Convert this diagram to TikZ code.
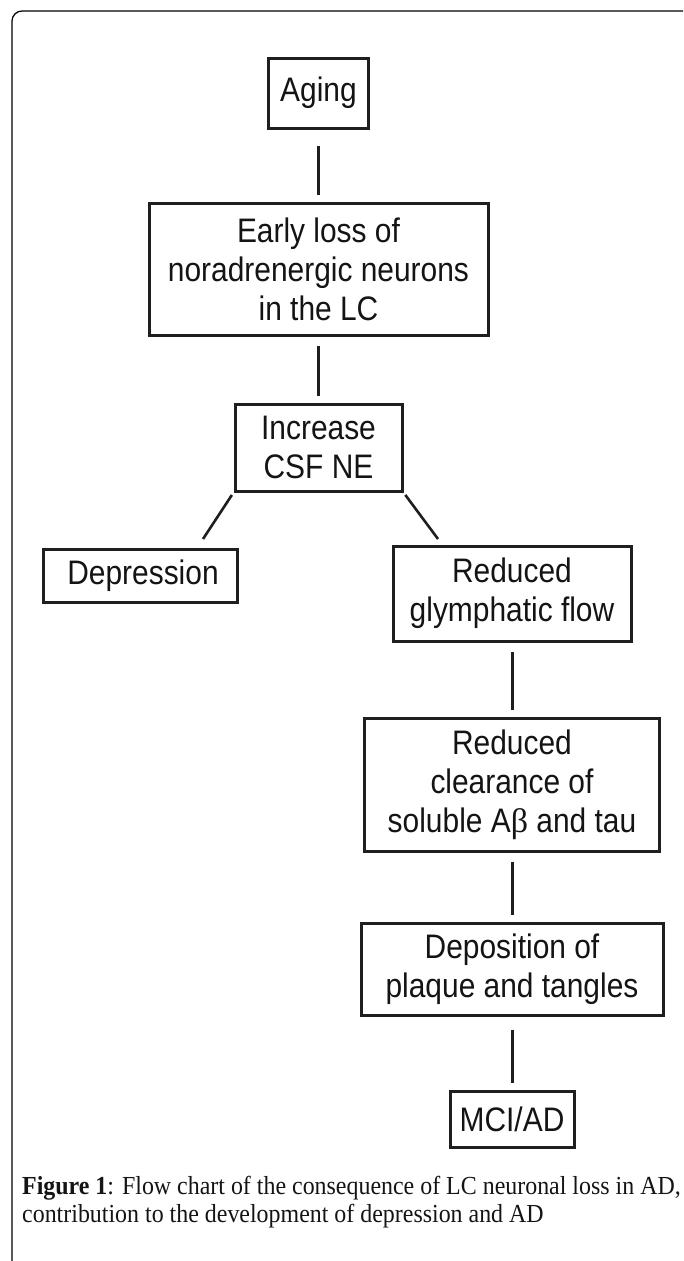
\documentclass[tikz,border=0pt]{standalone}
\usepackage{fontspec}
\newfontfamily\boxfont{Liberation Sans}[FakeStretch=0.88]
\newfontfamily\capfont{Liberation Serif}[FakeStretch=0.92]
\newfontfamily\betafont{Liberation Serif}

\begin{document}
\begin{tikzpicture}[x=1pt, y=-1pt,
    box/.style={draw=black!88, line width=3pt, inner sep=0pt, align=center, text=black!92,
                font=\boxfont\fontsize{34}{39}\selectfont},
    link/.style={draw=black!88, line width=3pt, shorten >=7pt, shorten <=9pt},
    capline/.style={anchor=base west, inner sep=0pt, text=black!92,
                font=\capfont\fontsize{26}{29}\selectfont}]

    \useasboundingbox (0 , 0) rectangle (683 , 1261);
    % frame of the figure
    \draw [line width=1.2pt, rounded corners=10pt] (12 , 1261) -- (12 , 11) -- (683 , 11);

    \node [box, minimum width=100pt, minimum height=70pt] (aging) at (318.5 , 93) {Aging};
    \node [box, minimum width=339pt, minimum height=132pt] (early) at (318.5 , 269) {Early loss of\\noradrenergic neurons\\in the LC};
    \node [box, minimum width=167pt, minimum height=87pt] (csf) at (318.5 , 447.5) {Increase\\CSF NE};
    \node [box, minimum width=194pt, minimum height=53pt] (depr) at (140 , 575.5) {\hspace{6pt}Depression};
    \node [box, minimum width=238pt, minimum height=95pt] (glym) at (512 , 593.5) {Reduced\\glymphatic flow};
    \node [box, minimum width=295pt, minimum height=133pt] (clear) at (512 , 784.5) {Reduced\\clearance of\\soluble A{\betafont β} and tau};
    \node [box, minimum width=302pt, minimum height=92pt] (depo) at (512 , 969) {Deposition of\\plaque and tangles};
    \node [box, minimum width=124pt, minimum height=56pt] (mci) at (512 , 1119) {MCI/AD};

    \coordinate (dl) at (203 , 539);
    \coordinate (dr) at (438 , 539);

 \path[link]
      (aging) edge[shorten <=16pt] (early)
      (early) edge (csf)
      (glym) edge (clear)
      (clear) edge (depo)
      (depo) edge[shorten <=13pt] (mci);
 \draw [line width=2.6pt, draw=black!88, shorten <=3pt] (csf.south west) -- (dl);
 \draw [line width=2.6pt, draw=black!88, shorten <=3pt] (csf.south east) -- (dr);

    \node [capline] (cap1) at (22 , 1194) {\textbf{Figure 1}: Flow chart of the consequence of LC neuronal loss in AD,};
    \node [capline] (cap2) at (22 , 1222) {contribution to the development of depression and AD};
\end{tikzpicture}
\end{document}
